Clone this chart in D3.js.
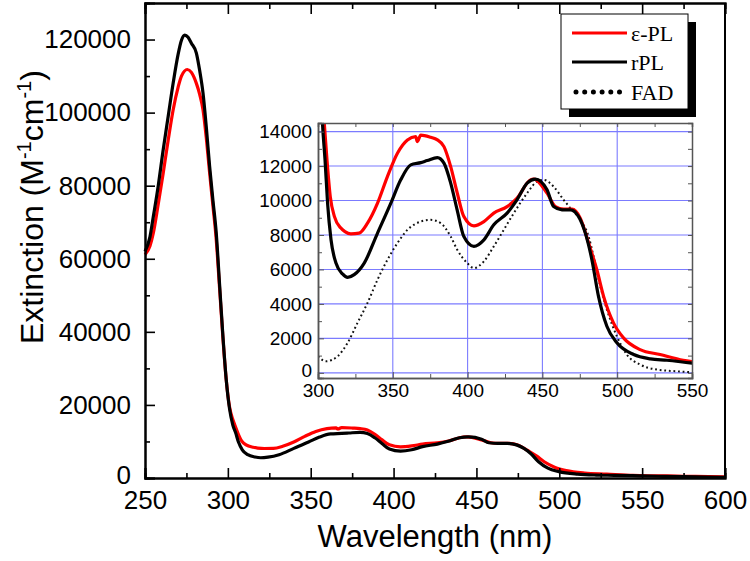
<!DOCTYPE html>
<html><head><meta charset="utf-8">
<script src="https://cdn.jsdelivr.net/npm/d3@7"></script>
<style>body{margin:0;background:#fff}svg{display:block}text{font-family:"Liberation Sans",Arial,sans-serif}</style>
</head><body><svg id="c" width="750" height="561"></svg>
<script>
// ---- data ----
const rplWl  = [250,253,255,258,261,264,267,270,272,274,276,278,281,283,285,287,289,291,293,295,297,299,301,303,304.7,306.4,308.7,312,316.4,319.8,324.2,330.9,339.8,348.7,355.3,362,368.7,373,379.8,384.2,388.7,393,397.5,404.2,410.9,417.5,426.4,433,439.8,445.3,453.1,457.5,463.1,468.7,474.2,478.7,483.1,487.5,493.1,499.8,511,522.2,533.3,548.7,560,575,590,600];
const rplVal = [62000,66000,71500,80000,89900,99000,108100,116000,119800,121200,120600,119000,116300,111500,105400,96000,85300,76000,67000,53000,39000,27000,19000,14490,12360,9850,7720,6370,5740,5540,5700,6370,8110,9850,11200,12070,12200,12320,12490,12170,11010,9460,7910,7340,7720,8590,9270,10040,11010,11240,10620,9650,9460,9460,9070,8110,6560,4440,2700,1740,1060,810,730,580,480,350,250,200];
const eplWl  = [250,253,255,258,261,264,267,270,272,275.5,278,281,283,285,287,289,291,293,295,297,299,301,303,304.2,306,308.2,311,315.3,318,322,327.5,333.1,339.8,346.4,353.1,359.8,365.3,366.4,368.7,375.3,379.8,384.2,388.7,393.1,397.5,404.2,410.9,417.5,426.4,433.1,442,444.2,453.1,458.7,464.2,469.8,475.3,480.9,486.4,490.9,497.5,504.2,515.3,528.7,544.2,548.7,560,575,590,600];
const eplVal = [61100,63500,67000,75000,83500,92500,100800,107000,110000,111800,111000,108000,105000,100800,93000,83500,74500,65200,52000,38500,27000,19500,16000,14490,12360,10230,9070,8400,8200,8070,8110,8690,9850,11390,12750,13520,13710,13420,13800,13670,13520,13130,11970,10430,9070,8530,8780,9270,9650,10140,11200,11240,10430,9650,9500,9500,8980,7530,5980,4440,2900,2030,1350,1060,730,670,600,480,380,300];
const fadWl  = [300,305.3,313.1,319.8,326.4,333.1,339.8,346.4,353.1,359.8,368.7,375.3,382,388.7,393.1,399.8,404.2,410.9,417.5,424.2,430.9,439.8,446.4,450.9,457.5,464.2,468.7,475.3,480.9,484.2,488.7,493.1,499.8,506.4,515.3,526.4,539.8,548.7];
const fadVal = [960,670,960,1740,2900,4060,5410,6560,7530,8300,8780,8880,8690,7910,7140,6370,6080,6470,7340,8300,9270,10430,11100,11200,10810,10040,9560,8880,7910,6760,5020,3670,2120,1060,480,190,90,40];
const mainXTicks = [250,300,350,400,450,500,550,600];
const mainYTicks = [0,20000,40000,60000,80000,100000,120000];
const insetXTicks = [300,350,400,450,500,550];
const insetYTicks = [0,2000,4000,6000,8000,10000,12000,14000];
const legendLabels = ["ε-PL","rPL","FAD"];

const svg = d3.select("#c");
const RED = "#ff0000", BLK = "#000000";

// ---- main plot ----
const M = {l:145, r:725, t:3, b:478};
const x = d3.scaleLinear().domain([250,600]).range([M.l,M.r]);
const y = d3.scaleLinear().domain([0,130000]).range([M.b,M.t]);

const main = svg.append("g");
const line = (xs,ys)=>d3.line().x(d=>xs(d[0])).y(d=>ys(d[1])).curve(d3.curveMonotoneX);
const zip = (a,b)=>a.map((v,i)=>[v,b[i]]);

main.append("path").datum(zip(eplWl,eplVal)).attr("d",line(x,y)).attr("fill","none").attr("stroke",RED).attr("stroke-width",3.2).attr("stroke-linejoin","round");
main.append("path").datum(zip(rplWl,rplVal)).attr("d",line(x,y)).attr("fill","none").attr("stroke",BLK).attr("stroke-width",3.2).attr("stroke-linejoin","round");

// axes
const axL = main.append("g").attr("transform",`translate(${M.l},0)`)
  .call(d3.axisLeft(y).tickValues(mainYTicks).tickSize(-10).tickPadding(14).tickFormat(d3.format("d")));
const axLm = main.append("g").attr("transform",`translate(${M.l},0)`)
  .call(d3.axisLeft(y).tickValues(d3.range(10000,130000,20000)).tickSize(-5).tickFormat(""));
const axB = main.append("g").attr("transform",`translate(0,${M.b})`)
  .call(d3.axisBottom(x).tickValues(mainXTicks).tickSize(-10).tickPadding(13).tickFormat(d3.format("d")));
const axBm = main.append("g").attr("transform",`translate(0,${M.b})`)
  .call(d3.axisBottom(x).tickValues(d3.range(275,600,50)).tickSize(-5).tickFormat(""));
const axT = main.append("g").attr("transform",`translate(0,${M.t})`)
  .call(d3.axisTop(x).tickValues(mainXTicks).tickSize(-11).tickFormat(""));
const axTm = main.append("g").attr("transform",`translate(0,${M.t})`)
  .call(d3.axisTop(x).tickValues(d3.range(275,600,50)).tickSize(-6).tickFormat(""));
[axL,axLm,axB,axBm,axT,axTm].forEach(g=>{
  g.select(".domain").attr("stroke","#000").attr("stroke-width",2);
  g.selectAll(".tick line").attr("stroke","#000").attr("stroke-width",1.6);
  g.selectAll(".tick text").attr("font-size",26).attr("fill","#000");
});
// lift the "0" label a touch so it clears the "250" label
axL.selectAll(".tick text").filter(d=>d===0).attr("dy","0.22em");
main.append("line").attr("x1",M.r).attr("x2",M.r).attr("y1",M.t).attr("y2",M.b).attr("stroke","#000").attr("stroke-width",2);

// axis titles
main.append("text").attr("x",(M.l+M.r)/2).attr("y",547).attr("text-anchor","middle").attr("font-size",31).text("Wavelength (nm)");
const yt = main.append("text").attr("transform","translate(43,344) rotate(-90)").attr("font-size",32);
yt.append("tspan").text("Extinction (M");
yt.append("tspan").attr("font-size",20).attr("dy",-12).text("-1");
yt.append("tspan").attr("dy",12).text("cm");
yt.append("tspan").attr("font-size",20).attr("dy",-12).text("-1");
yt.append("tspan").attr("dy",12).text(")");

// ---- inset ----
const I = {l:318, r:692, t:123, b:378};
const xi = d3.scaleLinear().domain([300,550]).range([I.l,I.r]);
const yi = d3.scaleLinear().domain([-300,14500]).range([I.b,I.t]);
const ins = svg.append("g");
ins.append("rect").attr("x",I.l).attr("y",I.t).attr("width",I.r-I.l).attr("height",I.b-I.t).attr("fill","#fff");
svg.append("clipPath").attr("id","ic").append("rect").attr("x",I.l).attr("y",I.t).attr("width",I.r-I.l).attr("height",I.b-I.t);
// grid
ins.append("g").selectAll("line").data(insetYTicks).join("line")
  .attr("x1",I.l).attr("x2",I.r).attr("y1",d=>yi(d)).attr("y2",d=>yi(d)).attr("stroke","#7b7bff").attr("stroke-width",1.1);
ins.append("g").selectAll("line").data(insetXTicks.slice(1,-1)).join("line")
  .attr("y1",I.t).attr("y2",I.b).attr("x1",d=>xi(d)).attr("x2",d=>xi(d)).attr("stroke","#7b7bff").attr("stroke-width",1.1);
const cg = ins.append("g").attr("clip-path","url(#ic)");
cg.append("path").datum(zip(fadWl,fadVal)).attr("d",line(xi,yi)).attr("fill","none").attr("stroke","#111").attr("stroke-width",2).attr("stroke-dasharray","1.8,2.8");
cg.append("path").datum(zip(eplWl,eplVal)).attr("d",line(xi,yi)).attr("fill","none").attr("stroke",RED).attr("stroke-width",3.2).attr("stroke-linejoin","round");
cg.append("path").datum(zip(rplWl,rplVal)).attr("d",line(xi,yi)).attr("fill","none").attr("stroke",BLK).attr("stroke-width",3.2).attr("stroke-linejoin","round");
// inset axes
const iL = ins.append("g").attr("transform",`translate(${I.l},0)`)
  .call(d3.axisLeft(yi).tickValues(insetYTicks).tickSize(-6).tickPadding(6).tickFormat(d3.format("d")));
const iLm = ins.append("g").attr("transform",`translate(${I.l},0)`)
  .call(d3.axisLeft(yi).tickValues(d3.range(1000,14500,2000)).tickSize(-4).tickFormat(""));
const iR = ins.append("g").attr("transform",`translate(${I.r},0)`)
  .call(d3.axisRight(yi).tickValues(d3.range(0,14500,1000)).tickSize(-4).tickFormat(""));
const iB = ins.append("g").attr("transform",`translate(0,${I.b})`)
  .call(d3.axisBottom(xi).tickValues(insetXTicks).tickSize(-6).tickPadding(6).tickFormat(d3.format("d")));
const iBm = ins.append("g").attr("transform",`translate(0,${I.b})`)
  .call(d3.axisBottom(xi).tickValues(d3.range(325,550,50)).tickSize(-4).tickFormat(""));
const iT = ins.append("g").attr("transform",`translate(0,${I.t})`)
  .call(d3.axisTop(xi).tickValues(d3.range(300,551,25)).tickSize(-4).tickFormat(""));
[iL,iLm,iR,iB,iBm,iT].forEach(g=>{
  g.select(".domain").attr("stroke","#555").attr("stroke-width",1.5);
  g.selectAll(".tick line").attr("stroke","#555").attr("stroke-width",1);
  g.selectAll(".tick text").attr("font-size",19).attr("fill","#000");
});
iL.selectAll(".tick text").filter(d=>d===0).attr("dy","0.2em");

// ---- legend ----
const lg = svg.append("g");
lg.append("rect").attr("x",569).attr("y",22).attr("width",127).attr("height",95).attr("fill","#000");
lg.append("rect").attr("x",561).attr("y",14).attr("width",127).attr("height",95).attr("fill","#fff").attr("stroke","#000").attr("stroke-width",1);
const ly = [33,62,92];
lg.append("line").attr("x1",572).attr("x2",627).attr("y1",ly[0]).attr("y2",ly[0]).attr("stroke",RED).attr("stroke-width",3.2);
lg.append("line").attr("x1",572).attr("x2",627).attr("y1",ly[1]).attr("y2",ly[1]).attr("stroke",BLK).attr("stroke-width",3.2);
lg.append("line").attr("x1",576).attr("x2",620).attr("y1",ly[2]).attr("y2",ly[2]).attr("stroke",BLK).attr("stroke-width",5).attr("stroke-linecap","round").attr("stroke-dasharray","0,8.7");
lg.selectAll("text.lg").data(legendLabels).join("text").attr("class","lg")
  .attr("x",631).attr("y",(d,i)=>ly[i]+8).attr("font-size",22)
  .style("font-family",'"Liberation Serif","Times New Roman",serif').text(d=>d);
</script></body></html>
